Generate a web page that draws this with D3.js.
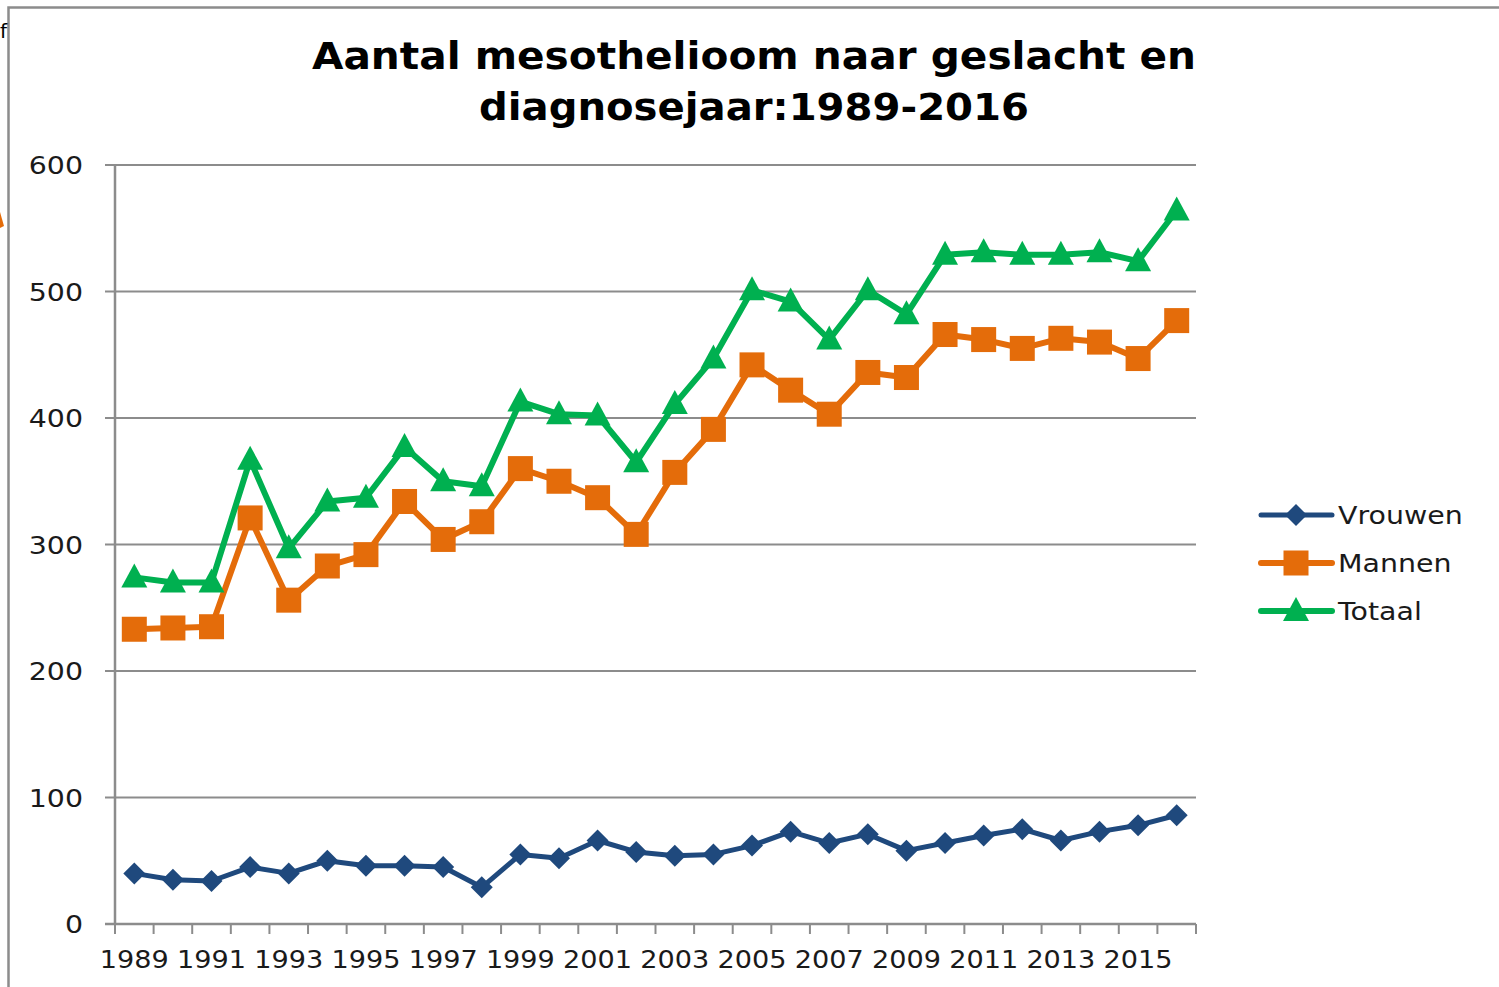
<!DOCTYPE html>
<html><head><meta charset="utf-8">
<script src="https://cdn.jsdelivr.net/npm/d3@7"></script>
<style>html,body{margin:0;padding:0;background:#fff;}svg{display:block;}</style>
</head><body>
<script>
const years = d3.range(1989, 2017).map(String);
const tickLabels = ["1989","1991","1993","1995","1997","1999","2001","2003","2005","2007","2009","2011","2013","2015"];
const yTicks = [0,100,200,300,400,500,600];
const vrouwen = [40,35,34,45,40,50,46,46,45,29,55,52,66,57,54,55,62,73,64,71,58,64,70,75,66,73,78,86];
const mannen  = [233,234,235,321,256,283,292,334,304,318,360,350,337,308,357,391,442,422,403,436,432,466,462,455,463,460,447,477];
const totaal  = [274,270,270,367,297,334,337,377,350,346,413,403,402,365,411,447,501,492,462,501,482,529,531,529,529,531,524,564];
const seriesNames = ["Vrouwen","Mannen","Totaal"];
const seriesColors = ["#1F497D","#E46C0A","#00B050"];
const seriesData = [vrouwen, mannen, totaal];

(function(){
const W = 1499, H = 987;
const svg = d3.select("body").append("svg").attr("width", W).attr("height", H);
const FS = 1.16; // horizontal stretch of text in the reference

// outer frame
svg.append("path").attr("d", `M8.5,${H} L8.5,7.5 L${W},7.5`).attr("fill","none").attr("stroke","#8c8c8c").attr("stroke-width",2.5);
svg.append("text").attr("x",0).attr("y",38).text("f").attr("font-family","DejaVu Sans").attr("font-size",20).attr("fill","#000");
svg.append("path").attr("d","M0,212 L4,226 L0,228 Z").attr("fill","#E46C0A");

const pL = 115, pR = 1196, pT = 165, pB = 924;
const x = d3.scaleBand().domain(years).range([pL, pR]);
const y = d3.scaleLinear().domain([0,600]).range([pB, pT]);

function stretched(sel){
  sel.each(function(){ const w = this.getComputedTextLength(); d3.select(this).attr("textLength", w*FS).attr("lengthAdjust","spacingAndGlyphs"); });
}

// gridlines
svg.append("g").selectAll("line").data(yTicks).join("line")
  .attr("x1", pL-10).attr("x2", pR).attr("y1", d=>y(d)).attr("y2", d=>y(d))
  .attr("stroke","#8c8c8c").attr("stroke-width",2);

// y axis line
svg.append("line").attr("x1",pL).attr("x2",pL).attr("y1",pT).attr("y2",pB).attr("stroke","#8c8c8c").attr("stroke-width",2.5);
// x axis ticks at band boundaries
const bounds = years.map(d=>x(d)).concat([pR]);
svg.append("g").selectAll("line").data(bounds).join("line")
  .attr("x1", d=>d).attr("x2", d=>d).attr("y1", pB).attr("y2", pB+10)
  .attr("stroke","#8c8c8c").attr("stroke-width",2);
svg.append("line").attr("x1",pL-10).attr("x2",pR).attr("y1",pB).attr("y2",pB).attr("stroke","#8c8c8c").attr("stroke-width",2.5);

// y labels
svg.append("g").selectAll("text").data(yTicks).join("text")
  .attr("x", 83).attr("y", d=>y(d)+9).attr("text-anchor","end")
  .attr("font-family","DejaVu Sans").attr("font-size",24.5).attr("fill","#1a1a1a")
  .text(d=>d).call(stretched);
// x labels
svg.append("g").selectAll("text").data(tickLabels).join("text")
  .attr("x", d=>x(d)+x.bandwidth()/2).attr("y", 968).attr("text-anchor","middle")
  .attr("font-family","DejaVu Sans").attr("font-size",24.5).attr("fill","#1a1a1a")
  .attr("textLength",69).attr("lengthAdjust","spacingAndGlyphs")
  .text(d=>d);

// title
const tAttrs = {"font-family":"DejaVu Sans","font-weight":"bold","font-size":37,"fill":"#000","text-anchor":"middle"};
const t1 = svg.append("text").attr("x",754).attr("y",69).text("Aantal mesothelioom naar geslacht en")
  .attr("textLength",884).attr("lengthAdjust","spacingAndGlyphs");
const t2 = svg.append("text").attr("x",754).attr("y",120).text("diagnosejaar:1989-2016")
  .attr("textLength",550).attr("lengthAdjust","spacingAndGlyphs");
for (const t of [t1,t2]) for (const k in tAttrs) t.attr(k, tAttrs[k]);

const widths = [5, 6, 6];

function drawMarker(g, i, cx, cy) {
  if (i === 0) {
    g.append("path").attr("d", `M${cx},${cy-11} L${cx+11},${cy} L${cx},${cy+11} L${cx-11},${cy} Z`).attr("fill", seriesColors[i]);
  } else if (i === 1) {
    g.append("rect").attr("x", cx-12.5).attr("y", cy-12.5).attr("width",25).attr("height",25).attr("fill", seriesColors[i]);
  } else {
    g.append("path").attr("d", `M${cx},${cy-14} L${cx+13},${cy+10} L${cx-13},${cy+10} Z`).attr("fill", seriesColors[i]);
  }
}

const line = d3.line().x((d,j)=>x(years[j])+x.bandwidth()/2).y(d=>y(d));
seriesData.forEach((data,i)=>{
  const g = svg.append("g");
  g.append("path").datum(data).attr("d", line).attr("fill","none")
    .attr("stroke", seriesColors[i]).attr("stroke-width", widths[i]).attr("stroke-linejoin","round");
  data.forEach((v,j)=> drawMarker(g, i, x(years[j])+x.bandwidth()/2, y(v)));
});

// legend
seriesNames.forEach((n,i)=>{
  const ly = 515 + i*48;
  const g = svg.append("g");
  g.append("line").attr("x1",1261).attr("x2",1332).attr("y1",ly).attr("y2",ly)
    .attr("stroke",seriesColors[i]).attr("stroke-width",widths[i]).attr("stroke-linecap","round");
  drawMarker(g, i, 1296, ly);
  g.append("text").attr("x",1338).attr("y",ly+9).text(n)
    .attr("font-family","DejaVu Sans").attr("font-size",24.5).attr("fill","#1a1a1a")
    .call(stretched);
});
})();
</script>
</body></html>
